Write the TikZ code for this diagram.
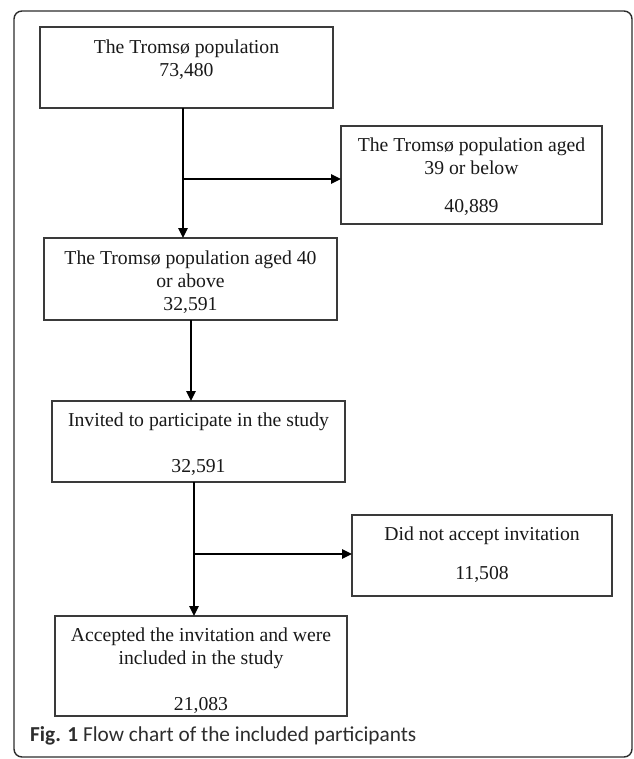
\documentclass[tikz,border=0pt]{standalone}
\usepackage{fontspec}
\setmainfont{Liberation Serif}
\newfontfamily\captionfont{Carlito}
\usetikzlibrary{arrows.meta,positioning}

\definecolor{flowBorder}{RGB}{58,58,58}
\definecolor{flowText}{RGB}{25,25,25}
\definecolor{flowFrame}{RGB}{45,45,45}
\definecolor{flowCaption}{RGB}{45,45,45}

\begin{document}
\begin{tikzpicture}[x=1pt,y=-1pt,
      box/.style={draw=flowBorder, line width=1.2pt, inner sep=0pt,
        outer sep=0pt},
      boxtext/.style={font=\fontsize{19.7}{23}\selectfont,
        text=flowText, align=center, inner sep=0pt},
      flow/.style={draw=black, line width=1.4pt,
        -{Triangle[length=10pt,width=9.5pt]}},
      caption/.style={font=\captionfont\fontsize{21.3}{24}\selectfont,
        text=flowCaption, anchor=base west, inner sep=0pt}]
      \useasboundingbox (0,0) rectangle (633,759);
      \fill[white] (0,0) rectangle (633,759);
      \draw[flowFrame, line width=1.4pt, rounded corners=8pt]
        (14,11) rectangle (632,757);

      \node[box, minimum width=293pt, minimum height=81pt] (pop)
        at (186.5,67.5) {};
      \node[boxtext, below=13pt of pop.north] (popText)
        {The Troms\o{} population\\73,480};

      \node[box, minimum width=261pt, minimum height=98pt] (young)
        at (471.5,175) {};
      \node[boxtext, below=12pt of young.north] (youngText)
        {The Troms\o{} population aged\\39 or below\\[15pt]40,889};

      \node[box, minimum width=293pt, minimum height=82pt] (old)
        at (190.5,279) {};
      \node[boxtext, below=13pt of old.north] (oldText)
        {The Troms\o{} population aged 40\\or above\\32,591};

      \node[box, minimum width=293pt, minimum height=81pt] (invited)
        at (198.5,441.5) {};
      \node[boxtext, below=12pt of invited.north] (invitedText)
        {Invited to participate in the study\\[23pt]32,591};

      \node[box, minimum width=260pt, minimum height=81pt] (declined)
        at (482,555.5) {};
      \node[boxtext, below=12pt of declined.north] (declinedText)
        {Did not accept invitation\\[16pt]11,508};

      \node[box, minimum width=292pt, minimum height=100pt] (accepted)
        at (201,666) {};
      \node[boxtext, below=12pt of accepted.north] (acceptedText)
        {Accepted the invitation and were\\included in the study\\[23pt]21,083};

      \coordinate (splitOne) at (183,179);
      \draw[flow] (pop.south -| splitOne) -- (old.north -| splitOne);
      \draw[flow] (splitOne) -- (young.west |- splitOne);
      \draw[flow] (old.south -| 191,0) -- (invited.north -| 191,0);
      \coordinate (splitTwo) at (194,554);
      \draw[flow] (invited.south -| splitTwo) -- (accepted.north -| splitTwo);
      \draw[flow] (splitTwo) -- (declined.west |- splitTwo);

      \node[caption] (figCaption) at (30,741)
        {\textbf{Fig. 1} Flow chart of the included participants};
    \end{tikzpicture}
\end{document}
